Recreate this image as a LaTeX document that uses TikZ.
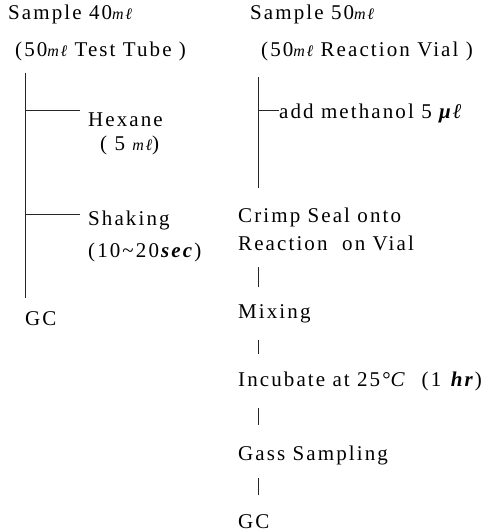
\documentclass[tikz,border=0pt]{standalone}
\usepackage{fontspec}
\setmainfont{Liberation Serif}[LetterSpace=10]
\newcommand{\mlunit}{{\fontsize{16}{16}\selectfont\itshape mℓ}}
\newcommand{\mulunit}{{\bfseries\itshape μℓ}}
\begin{document}
\begin{tikzpicture}[x=1pt,y=-1pt,
  txt/.style={anchor=base west, inner sep=0pt, font=\fontsize{21}{23}\selectfont},
  ln/.style={line width=0.8pt, draw=black!85}]
\useasboundingbox (0,0) rectangle (483,532);
% left column
\node[txt] (s1) at (8,20) {Sample 40\mlunit};
\node[txt] (t1) at (15,57) {(50\mlunit\ Test Tube )};
\node[txt] (hex) at (88,126) {Hexane};
\node[txt] (hexv) at (100,150) {( 5 \mlunit)};
\node[txt] (shk) at (88,225) {Shaking};
\node[txt] (shkt) at (88,257) {(10\textasciitilde 20\textbf{\textit{sec}})};
\node[txt] (gc1) at (25,325) {GC};
\coordinate (lt) at (25,73);
\coordinate (lb) at (25,298);
\coordinate (b1) at (25,110);
\coordinate (b2) at (25,214);
\draw[ln] (lt) -- (lb);
\draw[ln] (b1) -- ([xshift=-8pt]b1 -| hex.west);
\draw[ln] (b2) -- ([xshift=-8pt]b2 -| shk.west);
% right column
\node[txt] (s2) at (250,20) {Sample 50\mlunit};
\node[txt] (t2) at (261,57) {(50\mlunit\ Reaction Vial )};
\node[txt] (am) at (279,118) {add methanol 5 \mulunit};
\node[txt] (cr) at (238,222) {Crimp Seal onto};
\node[txt] (rv) at (238,250) {Reaction\ \ on Vial};
\node[txt] (mx) at (238,318) {Mixing};
\node[txt] (inc) at (238,386) {Incubate at 25°\textit{C} \ (1 \textbf{\textit{hr}})};
\node[txt] (gs) at (238,460) {Gass Sampling};
\node[txt] (gc2) at (238,528) {GC};
\coordinate (rt) at (258,77);
\coordinate (rb) at (258,188);
\coordinate (b3) at (258,110);
\coordinate (v1t) at (258,267); \coordinate (v1b) at (258,287);
\coordinate (v2t) at (258,340); \coordinate (v2b) at (258,354);
\coordinate (v3t) at (258,408); \coordinate (v3b) at (258,425);
\coordinate (v4t) at (258,478); \coordinate (v4b) at (258,495);
\draw[ln] (rt) -- (rb);
\draw[ln] (b3) -- (b3 -| am.west);
\draw[ln] (v1t) -- (v1b);
\draw[ln] (v2t) -- (v2b);
\draw[ln] (v3t) -- (v3b);
\draw[ln] (v4t) -- (v4b);
\end{tikzpicture}
\end{document}
